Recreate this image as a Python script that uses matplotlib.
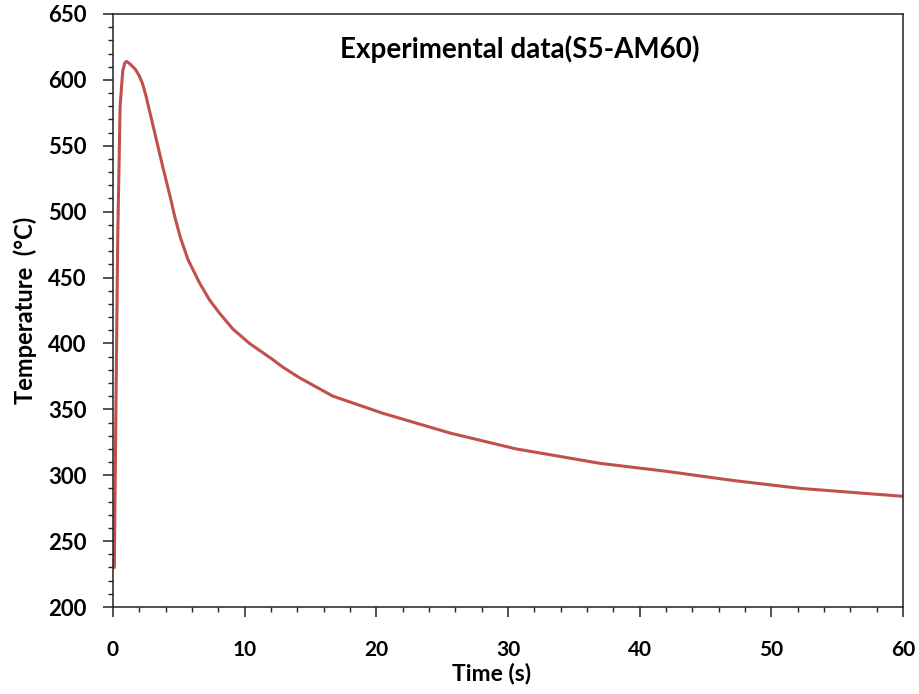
import matplotlib
matplotlib.use("Agg")
import matplotlib.pyplot as plt
from matplotlib.ticker import MultipleLocator

# Measured cooling curve of sample S5-AM60
time_s = [0.10, 0.20, 0.36, 0.54, 0.74, 0.90, 1.04, 1.30, 1.70, 2.00, 2.25, 2.50,
          3.00, 3.78, 4.40, 4.67, 5.10, 5.68, 6.57, 7.33, 8.09, 9.10, 10.37,
          12.10, 12.90, 14.16, 16.70, 20.50, 25.60, 30.60, 37.00, 42.00, 47.10,
          52.20, 60.00]
temp_c = [230, 330, 481, 580, 607, 613, 614, 612, 608, 603, 597, 588,
          567, 534, 509, 497, 481, 464, 446, 433, 423, 411, 400,
          388, 382, 374, 360, 347, 332, 320, 309, 303, 296,
          290, 284]

x_ticks = [0, 10, 20, 30, 40, 50, 60]
y_ticks = [200, 250, 300, 350, 400, 450, 500, 550, 600, 650]

W, H = 920, 694
fig = plt.figure(figsize=(W / 100, H / 100), dpi=100)
ax = fig.add_axes([113 / W, 1 - 607 / H, (903 - 113) / W, (607 - 14) / H])

ax.plot(time_s, temp_c, color="#C0504D", lw=2.2, solid_capstyle="round",
        solid_joinstyle="round")

ax.set_xlim(0, 60)
ax.set_ylim(200, 650)
ax.set_xticks(x_ticks)
ax.set_yticks(y_ticks)
ax.xaxis.set_minor_locator(MultipleLocator(2))
ax.yaxis.set_minor_locator(MultipleLocator(10))

font = "Lato"
for lab in ax.get_yticklabels():
    lab.set_fontfamily(font)
    lab.set_fontweight("bold")
    lab.set_fontsize(16)
for lab in ax.get_xticklabels():
    lab.set_fontfamily(font)
    lab.set_fontweight("bold")
    lab.set_fontsize(15)

ax.tick_params(which="major", direction="out", length=7, width=1.1,
               color="#222222")
ax.tick_params(which="minor", direction="out", length=3.5, width=1.0,
               color="#222222")
ax.tick_params(axis="y", which="major", pad=12)
ax.tick_params(axis="x", which="major", pad=17)

for side in ["top", "right", "left", "bottom"]:
    ax.spines[side].set_linewidth(1.1)
    ax.spines[side].set_color("#222222")

fig.text(520 / W, 1 - 58 / H, "Experimental data(S5-AM60)", ha="center",
         va="baseline", fontsize=20, fontweight="bold", family=font)
fig.text(492 / W, 1 - 680 / H, "Time (s)", ha="center", va="baseline",
         fontsize=16.5, fontweight="bold", family=font)
fig.text(25 / W, 1 - 310 / H, "Temperature  (°C)", ha="center", va="center",
         rotation=90, fontsize=17, fontweight="bold", family=font)

fig.savefig("out.png", dpi=100, facecolor="white")
